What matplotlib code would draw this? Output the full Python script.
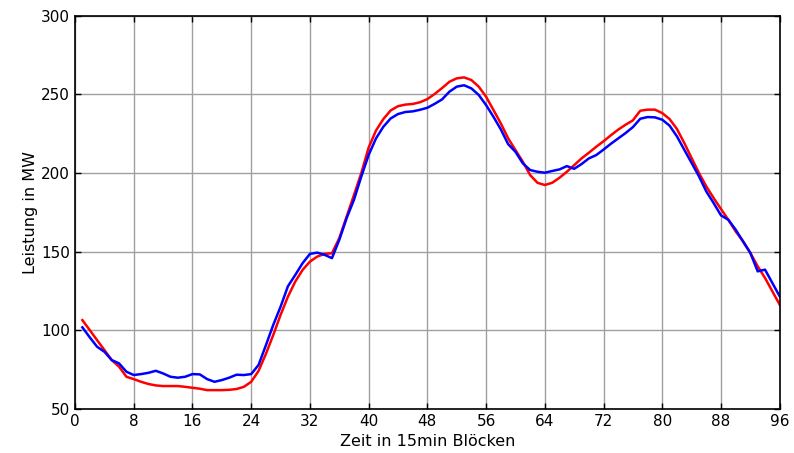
import numpy as np
import matplotlib
matplotlib.use("Agg")
import matplotlib.pyplot as plt

# 15-min blocks 1..96
blocks = np.arange(1, 97)

# red series (MW)
rot = [106.5, 100.2, 93.8, 87.5, 81.1, 76.9, 70.5, 69.0, 67.3, 65.9,
       65.0, 64.6, 64.6, 64.6, 64.1, 63.5, 62.9, 62.0, 62.0, 62.0,
       62.2, 62.7, 64.1, 67.3, 74.2, 85.0, 97.0, 109.8, 121.4, 131.0,
       138.4, 143.7, 146.9, 148.6, 149.0, 158.6, 172.3, 186.0, 200.0, 216.2,
       227.0, 234.3, 239.8, 242.5, 243.5, 243.9, 245.0, 247.0, 250.3, 254.0,
       258.0, 260.2, 260.8, 259.1, 254.9, 248.5, 240.1, 231.6, 222.1, 214.6,
       207.2, 198.7, 193.8, 192.4, 193.8, 197.0, 200.8, 205.0, 209.3, 212.9,
       216.7, 220.2, 224.0, 227.6, 230.7, 233.5, 239.6, 240.3, 240.3, 238.1,
       234.3, 228.0, 219.1, 209.5, 200.0, 191.5, 184.1, 177.1, 170.3, 162.9,
       156.6, 149.2, 140.7, 133.3, 124.8, 116.3]

# blue series (MW)
blau = [101.9, 95.6, 89.6, 86.4, 81.1, 79.0, 73.7, 71.6, 72.2, 73.0,
        74.3, 72.6, 70.5, 69.9, 70.5, 72.2, 72.0, 69.0, 67.3, 68.4,
        69.9, 71.8, 71.6, 72.2, 78.0, 90.5, 103.4, 115.0, 128.0, 135.2,
        142.7, 148.6, 149.4, 148.0, 145.9, 157.5, 171.3, 183.0, 197.8, 211.5,
        222.0, 229.4, 234.7, 237.5, 238.8, 239.2, 240.2, 241.5, 244.0, 246.8,
        251.7, 254.9, 255.8, 253.8, 249.6, 243.2, 235.8, 227.8, 218.4, 213.5,
        206.2, 201.9, 200.8, 200.2, 201.3, 202.3, 204.4, 202.7, 205.7, 209.3,
        211.4, 214.9, 218.6, 222.0, 225.4, 229.2, 234.5, 235.6, 235.4, 233.9,
        230.1, 223.3, 214.8, 206.4, 197.9, 188.3, 180.9, 173.1, 170.3, 164.0,
        156.6, 149.2, 137.5, 138.6, 130.1, 121.6]

fig = plt.figure(figsize=(7.94, 4.53), dpi=100)
ax = fig.add_axes([0.0945, 0.0971, 0.8875, 0.8682])

ax.plot(blocks, rot, color="#ff0000", lw=1.8)
ax.plot(blocks, blau, color="#0000ff", lw=1.8)

ax.set_xlim(0, 96)
ax.set_ylim(50, 300)
ax.set_xticks(np.arange(0, 97, 8))
ax.set_yticks(np.arange(50, 301, 50))
ax.grid(True, color="#a0a0a0", lw=1.0)
ax.set_axisbelow(True)

ax.tick_params(direction="in", top=True, right=True, labelsize=11,
               length=4, width=1, colors="black")
for s in ax.spines.values():
    s.set_linewidth(1.2)

ax.set_xlabel("Zeit in 15min Blöcken", fontsize=11.5, labelpad=4)
ax.set_ylabel("Leistung in MW", fontsize=11.5, labelpad=2)

fig.savefig("out.png", dpi=100)
plt.close(fig)
